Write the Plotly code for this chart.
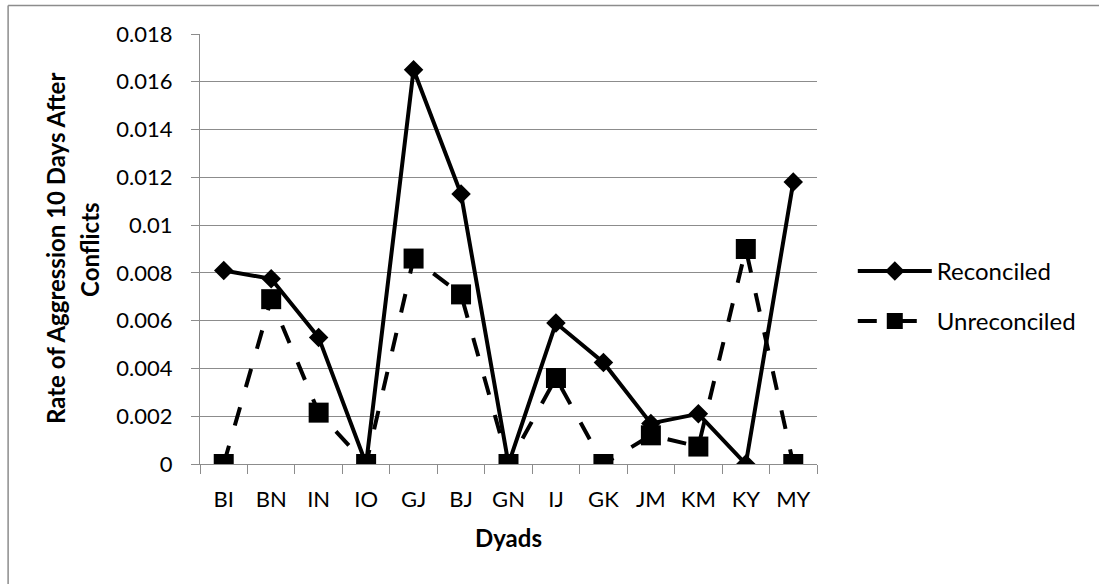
import plotly.graph_objects as go

# Dyads on the category axis
dyads = ["BI", "BN", "IN", "IO", "GJ", "BJ", "GN", "IJ", "GK", "JM", "KM", "KY", "MY"]

# Rate of aggression in the 10 days after conflicts, per dyad
reconciled = [0.0081, 0.00775, 0.0053, 0.0, 0.0165, 0.0113, 0.0, 0.0059,
              0.00425, 0.0017, 0.0021, 0.0, 0.0118]
unreconciled = [0.0, 0.0069, 0.00215, 0.0, 0.0086, 0.0071, 0.0, 0.0036,
                0.0, 0.0012, 0.00073, 0.009, 0.0]

# Value-axis ticks
y_tick_vals = [0, 0.002, 0.004, 0.006, 0.008, 0.01, 0.012, 0.014, 0.016, 0.018]
y_tick_text = ["0", "0.002", "0.004", "0.006", "0.008", "0.01", "0.012",
               "0.014", "0.016", "0.018"]

FONT = "Lato, Carlito, Calibri, sans-serif"
GRID = "#8c8c8c"

fig = go.Figure()

fig.add_trace(go.Scatter(
    x=dyads, y=reconciled, name="Reconciled", mode="lines+markers",
    line=dict(color="black", width=4),
    marker=dict(symbol="diamond", size=15, color="black"),
    legendgroup="a",
))
fig.add_trace(go.Scatter(
    x=dyads, y=unreconciled, name="Unreconciled", mode="lines+markers",
    line=dict(color="black", width=4, dash="19px,21px"),
    marker=dict(symbol="square", size=20, color="black"),
    legendgroup="b",
))

fig.update_layout(
    width=1099, height=584,
    margin=dict(l=200, r=282, t=34, b=120),
    paper_bgcolor="white", plot_bgcolor="white",
    font=dict(family=FONT, size=22, color="black"),
    showlegend=True,
    legend=dict(
        x=1.058, y=0.39, xanchor="left", yanchor="middle",
        font=dict(family=FONT, size=24, color="black"),
        itemwidth=74, tracegroupgap=16, traceorder="grouped",
        bgcolor="rgba(0,0,0,0)",
    ),
    xaxis=dict(
        type="category", range=[-0.5, 12.5],
        showgrid=False, showline=True, linecolor=GRID, linewidth=1,
        ticks="outside", tickson="boundaries", ticklen=9, tickcolor=GRID,
        tickfont=dict(family=FONT, size=22, color="black"),
        ticklabelstandoff=16,
        title=dict(text="<b>Dyads</b>", font=dict(family=FONT, size=24), standoff=18),
    ),
    yaxis=dict(
        range=[0, 0.018], tickvals=y_tick_vals, ticktext=y_tick_text,
        showgrid=True, gridcolor=GRID, gridwidth=1,
        zeroline=False, showline=True, linecolor=GRID, linewidth=1,
        ticks="outside", ticklen=8, tickcolor=GRID,
        tickfont=dict(family=FONT, size=22, color="black"),
        ticklabelstandoff=14,
    ),
    annotations=[
        dict(text="<b>Rate of Aggression 10 Days After</b>", textangle=-90,
             xref="paper", yref="paper", x=-0.2350, y=0.5,
             xanchor="center", yanchor="middle", showarrow=False,
             font=dict(family=FONT, size=24, color="black")),
        dict(text="<b>Conflicts</b>", textangle=-90,
             xref="paper", yref="paper", x=-0.1800, y=0.5,
             xanchor="center", yanchor="middle", showarrow=False,
             font=dict(family=FONT, size=24, color="black")),
    ],
    shapes=[
        # chart-area frame: top and left edges
        dict(type="line", xref="paper", yref="paper",
             x0=-0.311, y0=1.0663, x1=1.6, y1=1.0663,
             line=dict(color="#8c8c8c", width=1.5), layer="below"),
        dict(type="line", xref="paper", yref="paper",
             x0=-0.311, y0=1.0663, x1=-0.311, y1=-0.5,
             line=dict(color="#8c8c8c", width=1.5), layer="below"),
    ],
)

fig.write_html("out.html")
